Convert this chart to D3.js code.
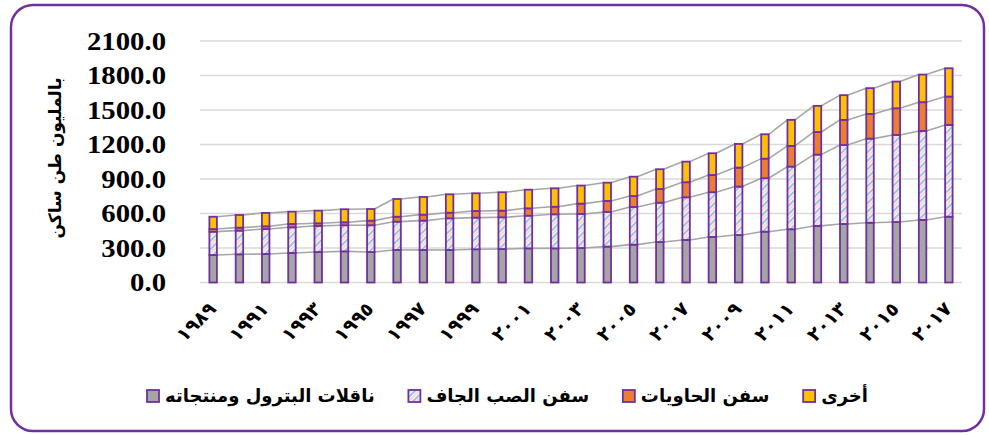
<!DOCTYPE html>
<html>
<head>
<meta charset="utf-8">
<script src="https://cdn.jsdelivr.net/npm/d3@7"></script>
<style>
body { margin:0; background:#fff; }
</style>
</head>
<body>
<svg id="chart" width="989" height="435"></svg>
<script>
// data (million dwt)
const years = [1989,1990,1991,1992,1993,1994,1995,1996,1997,1998,1999,2000,2001,2002,2003,
               2004,2005,2006,2007,2008,2009,2010,2011,2012,2013,2014,2015,2016,2017];
const oilTankers = [239,245,248,257,265,271,265,283,283,283,289,291,297,297,300,
                    312,329,352,370,396,413,442,463,492,509,520,526,544,572];
const dryBulk    = [203,206,217,223,227,227,233,246,255,275,275,276,284,296,296,
                    301,328,342,371,389,421,465,545,620,687,731,757,774,798];
const containers = [23,26,24,29,23,26,40,43,52,49,58,58,64,66,90,
                    96,95,119,131,150,165,170,180,197,218,215,232,250,247];
const others     = [107,110,116,107,110,113,101,154,154,160,154,160,162,160,157,
                    159,168,172,179,189,206,212,226,227,215,224,232,240,246];
const seriesNames = ["ناقلات البترول ومنتجاته", "سفن الصب الجاف", "سفن الحاويات", "أخرى"];
const yTicks = [0,300,600,900,1200,1500,1800,2100];
const labelYears = years.filter((d,i) => i % 2 == 0);
const yTitle = "بالمليون طن ساكن";

const keys = ["oil","bulk","cont","other"];
const colors = ["#A5A5A5","url(#hatch)","#ED7D31","#FFC000"];
const purple = "#7030A0";

var rows = years.map((y,i) => ({year:y, oil:oilTankers[i], bulk:dryBulk[i], cont:containers[i], other:others[i]}));
var stacked = d3.stack().keys(keys)(rows);

function arabicDigits(n){
  return String(n).replace(/[0-9]/g, c => "٠١٢٣٤٥٦٧٨٩"[+c]);
}

var svg = d3.select("#chart");

// hatch for dry bulk
var defs = svg.append("defs");
var pat = defs.append("pattern").attr("id","hatch")
  .attr("patternUnits","userSpaceOnUse").attr("width",6).attr("height",6)
  .attr("patternTransform","rotate(45)");
pat.append("rect").attr("width",6).attr("height",6).attr("fill","#ffffff");
pat.append("rect").attr("width",2.2).attr("height",6).attr("fill","#9DC3E6");
pat.append("rect").attr("x",3).attr("width",2.2).attr("height",6).attr("fill","#F8D9CC");

// frame
svg.append("rect").attr("x",11).attr("y",5).attr("width",973).attr("height",426)
  .attr("rx",22).attr("fill","#fff").attr("stroke",purple).attr("stroke-width",2.5);

var x = d3.scaleBand().domain(years).range([200,962]);
var y = d3.scaleLinear().domain([0,2100]).range([282.5,41]);
var bw = 7.5;

// gridlines
svg.append("g").selectAll("line").data(yTicks).join("line")
  .attr("x1",200).attr("x2",962)
  .attr("y1",d => y(d)).attr("y2",d => y(d))
  .attr("stroke","#D9D9D9").attr("stroke-width",1.5);

// y labels (stretched a little, like the original)
svg.append("g").attr("transform","translate(166,0) scale(1.15,1)")
  .selectAll("text").data(yTicks).join("text")
  .attr("x",0).attr("y",d => y(d)).attr("dy","0.35em")
  .attr("text-anchor","end")
  .style("font-family","'Liberation Serif','Times New Roman',serif")
  .style("font-weight","bold").style("font-size","25px")
  .text(d => d3.format(".1f")(d));

svg.append("text")
  .attr("transform","translate(61,158) rotate(-90)")
  .attr("text-anchor","middle")
  .style("font-family","'DejaVu Sans',sans-serif")
  .style("font-weight","bold").style("font-size","17px")
  .text(yTitle);

// series lines between bars
var cx = d => x(d) + x.bandwidth()/2;
stacked.forEach(s => {
  var segs = d3.pairs(s);
  svg.append("g").selectAll("line").data(segs).join("line")
    .attr("x1",d => cx(d[0].data.year) + bw/2)
    .attr("x2",d => cx(d[1].data.year) - bw/2)
    .attr("y1",d => y(d[0][1]))
    .attr("y2",d => y(d[1][1]))
    .attr("stroke","#A6A6A6").attr("stroke-width",1.6);
});

// bars
stacked.forEach((s,k) => {
  svg.append("g").selectAll("rect").data(s).join("rect")
    .attr("x",d => cx(d.data.year) - bw/2)
    .attr("width",bw)
    .attr("y",d => y(d[1]))
    .attr("height",d => y(d[0]) - y(d[1]))
    .attr("fill",colors[k])
    .attr("stroke",purple).attr("stroke-width",1.8);
});

// x labels
svg.append("g").selectAll("text").data(labelYears).join("text")
  .attr("transform",d => "translate(" + (cx(d)+4) + ",310) rotate(-45)")
  .attr("text-anchor","end")
  .style("font-family","'DejaVu Sans',sans-serif")
  .style("font-weight","bold").style("font-size","19px")
  .text(d => arabicDigits(d));

// legend
var lg = svg.append("g");
var items = seriesNames.map((n,k) => {
  var g = lg.append("g");
  g.append("rect").attr("width",12).attr("height",12).attr("y",-6)
    .attr("fill",colors[k]).attr("stroke",purple).attr("stroke-width",1.8);
  var t = g.append("text").attr("x",18).attr("dy","0.35em")
    .style("font-family","'DejaVu Sans',sans-serif")
    .style("font-weight","bold").style("font-size","18px")
    .text(n);
  return {g:g, w:18 + t.node().getComputedTextLength()};
});
var total = d3.sum(items, d => d.w);
var gap = (868 - 147 - total) / 3;
var pos = 147;
items.forEach(it => {
  it.g.attr("transform","translate(" + pos + ",396)");
  pos += it.w + gap;
});
</script>
</body>
</html>
